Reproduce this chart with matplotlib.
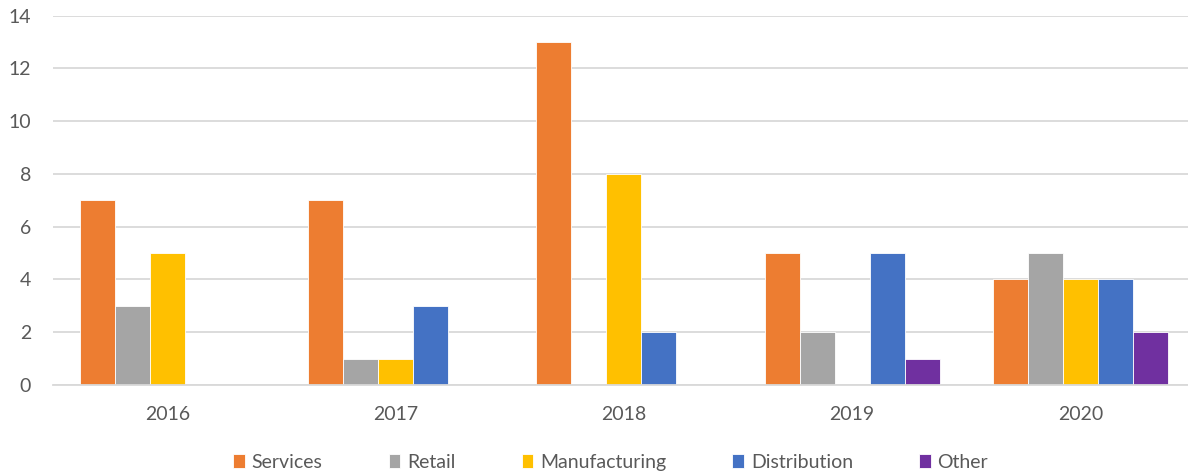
import matplotlib
matplotlib.use('Agg')
import matplotlib.pyplot as plt
import numpy as np

# chart data
years = ['2016', '2017', '2018', '2019', '2020']
series_names = ['Services', 'Retail', 'Manufacturing', 'Distribution', 'Other']
services = [7, 7, 13, 5, 4]
retail = [3, 1, 0, 2, 5]
manufacturing = [5, 1, 8, 0, 4]
distribution = [0, 3, 2, 5, 4]
other = [0, 0, 0, 1, 2]
y_ticks = [0, 2, 4, 6, 8, 10, 12, 14]

colors = ['#ED7D31', '#A5A5A5', '#FFC000', '#4472C4', '#7030A0']
text_color = '#595959'
grid_color = '#D9D9D9'

plt.rcParams['font.family'] = ['Lato', 'DejaVu Sans']

fig = plt.figure(figsize=(11.88, 4.74), dpi=100)
ax = fig.add_axes([0.0449, 0.1878, 0.9606, 0.7791])

x = np.arange(len(years))
bar_w = 0.1533
all_series = [services, retail, manufacturing, distribution, other]
for i, (name, vals) in enumerate(zip(series_names, all_series)):
    ax.bar(x + (i - 2) * bar_w, vals, width=bar_w, color=colors[i],
           edgecolor='white', linewidth=0.6, label=name, zorder=2)

ax.set_xlim(-0.5, len(years) - 0.5)
ax.set_ylim(0, 14)
ax.set_yticks(y_ticks)
ax.set_xticks(x)
ax.set_xticklabels(years)

ax.grid(axis='y', color=grid_color, linewidth=1.3, zorder=0)
ax.set_axisbelow(True)
for side in ['top', 'right', 'left']:
    ax.spines[side].set_visible(False)
ax.spines['bottom'].set_color(grid_color)
ax.spines['bottom'].set_linewidth(1.3)
ax.spines['bottom'].set_zorder(3)

ax.tick_params(axis='both', length=0, labelsize=14, labelcolor=text_color)
ax.tick_params(axis='y', pad=16)
ax.tick_params(axis='x', pad=15)

leg = fig.legend(loc='center', bbox_to_anchor=(0.514, 0.025), ncol=5,
                 frameon=False, fontsize=14, handlelength=0.6,
                 handleheight=0.8, handletextpad=0.35, columnspacing=3.4,
                 borderaxespad=0)
for t in leg.get_texts():
    t.set_color(text_color)

fig.savefig('out.png', dpi=100, facecolor='white')
